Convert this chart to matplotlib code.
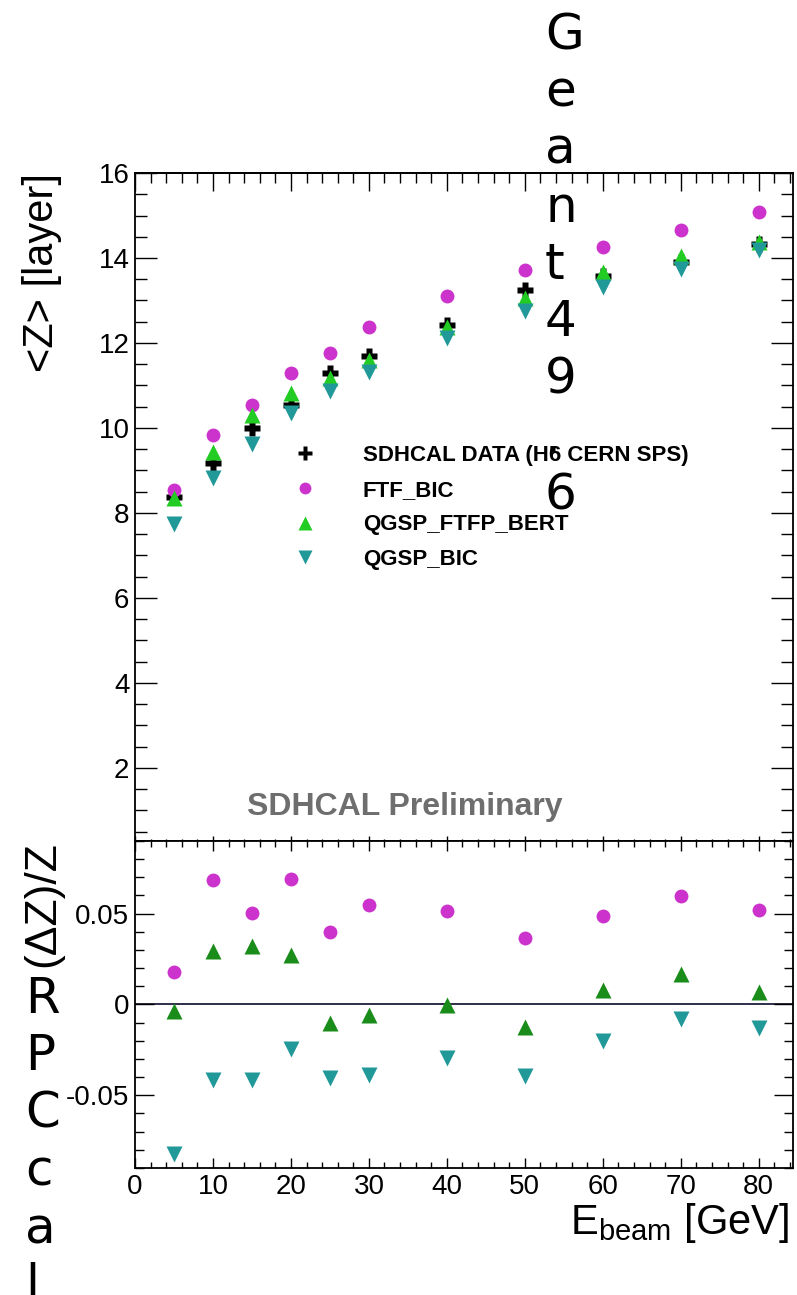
import matplotlib
matplotlib.use("Agg")
import matplotlib.pyplot as plt
from matplotlib.ticker import MultipleLocator, FixedLocator, FuncFormatter, NullFormatter

# beam energies (GeV)
energy = [5, 10, 15, 20, 25, 30, 40, 50, 60, 70, 80]

# mean shower position <Z> in layers
z_data = [8.38, 9.18, 10.00, 10.54, 11.29, 11.69, 12.42, 13.25, 13.58, 13.90, 14.33]
z_ftf_bic = [8.54, 9.84, 10.54, 11.29, 11.76, 12.38, 13.10, 13.72, 14.26, 14.66, 15.08]
z_qgsp_ftfp_bert = [8.36, 9.44, 10.31, 10.82, 11.18, 11.60, 12.38, 13.06, 13.67, 14.05, 14.38]
z_qgsp_bic = [7.74, 8.82, 9.62, 10.35, 10.87, 11.32, 12.12, 12.75, 13.32, 13.74, 14.19]

# relative difference (MC - data)/data
dz_ftf_bic = [0.0176, 0.0687, 0.0505, 0.0692, 0.0401, 0.0550, 0.0516, 0.0368, 0.0489, 0.0599, 0.0522]
dz_qgsp_ftfp_bert = [-0.0038, 0.0297, 0.0320, 0.0270, -0.0104, -0.0060, -0.0005, -0.0126, 0.0077, 0.0165, 0.0066]
dz_qgsp_bic = [-0.0824, -0.0418, -0.0418, -0.0247, -0.0407, -0.0390, -0.0297, -0.0396, -0.0203, -0.0082, -0.0132]

labels = ["SDHCAL DATA (H6 CERN SPS)", "FTF_BIC", "QGSP_FTFP_BERT", "QGSP_BIC"]
ztick_vals = [2, 4, 6, 8, 10, 12, 14, 16]
rtick_vals = [-0.05, 0, 0.05]

magenta = "#cc33cc"
green = "#22cc22"
dkgreen = "#1a8c1a"
teal = "#229999"

plt.rcParams['font.family'] = ['Liberation Sans', 'DejaVu Sans']
plt.rcParams['axes.unicode_minus'] = False
plt.rcParams['axes.linewidth'] = 1.3

fig = plt.figure(figsize=(7.97, 12.95), dpi=100)
ax = fig.add_axes([0.1694, 0.3506, 0.8256, 0.5158])
axr = fig.add_axes([0.1694, 0.0981, 0.8256, 0.2525])

# ---- upper panel
ax.plot(energy, z_data, ls='none', marker='P', ms=11.5, color='black', mec='none', label=labels[0])
ax.plot(energy, z_ftf_bic, ls='none', marker='o', ms=10, color=magenta, mec='none', label=labels[1])
ax.plot(energy, z_qgsp_ftfp_bert, ls='none', marker='^', ms=11.5, color=green, mec='none', label=labels[2])
ax.plot(energy, z_qgsp_bic, ls='none', marker='v', ms=11.5, color=teal, mec='none', label=labels[3])

ax.set_xlim(0, 84.4)
ax.set_ylim(0.28, 16)
ax.xaxis.set_major_locator(MultipleLocator(10))
ax.xaxis.set_minor_locator(MultipleLocator(2))
ax.xaxis.set_major_formatter(NullFormatter())
ax.yaxis.set_major_locator(FixedLocator(ztick_vals))
ax.yaxis.set_minor_locator(MultipleLocator(0.5))
ax.tick_params(axis='y', which='major', direction='in', length=15.5, width=1, left=True, right=True, labelsize=20, pad=4)
ax.tick_params(axis='y', which='minor', direction='in', length=8.5, width=1, left=True, right=True)
ax.tick_params(axis='x', which='major', direction='in', length=3.6, width=1, top=False)
ax.tick_params(axis='x', which='minor', direction='in', length=1.5, width=1, top=False)

sec = ax.secondary_xaxis('top')
sec.xaxis.set_major_locator(MultipleLocator(10))
sec.xaxis.set_minor_locator(MultipleLocator(2))
sec.xaxis.set_major_formatter(NullFormatter())
sec.tick_params(which='major', direction='in', length=13, width=1)
sec.tick_params(which='minor', direction='in', length=7, width=1)
sec.spines['top'].set_linewidth(1.3)

ax.set_ylabel("<Z> [layer]", fontsize=30, loc='top')
ax.yaxis.set_label_coords(-0.111, 1.0)

ax.text(0.170, 0.051, "SDHCAL Preliminary", transform=ax.transAxes, fontsize=23,
        fontweight='bold', color='#6e6e6e', va='center', ha='left')

leg = ax.legend(loc='upper left', bbox_to_anchor=(0.194, 0.623), frameon=False,
                prop={'family': 'Liberation Sans', 'weight': 'bold', 'size': 16},
                markerscale=0.85, labelspacing=0.62, handlelength=2.0,
                handletextpad=1.6, borderpad=0.4)

# ---- lower panel (ratio)
axr.axhline(0, color='#1e1e3c', lw=1.3, zorder=1)
axr.plot(energy, dz_ftf_bic, ls='none', marker='o', ms=10, color=magenta, mec='none')
axr.plot(energy, dz_qgsp_ftfp_bert, ls='none', marker='^', ms=11.5, color=dkgreen, mec='none')
axr.plot(energy, dz_qgsp_bic, ls='none', marker='v', ms=11.5, color=teal, mec='none')

axr.set_xlim(0, 84.4)
axr.set_ylim(-0.09, 0.09)
axr.xaxis.set_major_locator(MultipleLocator(10))
axr.xaxis.set_minor_locator(MultipleLocator(2))
axr.yaxis.set_major_locator(FixedLocator(rtick_vals))
axr.yaxis.set_minor_locator(MultipleLocator(0.01))
axr.yaxis.set_major_formatter(FuncFormatter(lambda v, p: "%g" % round(v, 3)))
axr.tick_params(axis='x', which='major', direction='in', length=7.5, width=1, top=True, bottom=True, labelsize=20, pad=4)
axr.tick_params(axis='x', which='minor', direction='in', length=4, width=1, top=True, bottom=True)
axr.tick_params(axis='y', which='major', direction='in', length=13.5, width=1, left=True, right=True, labelsize=20, pad=4)
axr.tick_params(axis='y', which='minor', direction='in', length=6.5, width=1, left=True, right=True)

axr.set_ylabel("(\u0394Z)/Z", fontsize=32, loc='top')
axr.yaxis.set_label_coords(-0.109, 1.0)
axr.set_xlabel(r"$\mathregular{E_{beam}}$ [GeV]", fontsize=30, loc='right')
axr.xaxis.set_label_coords(0.995, -0.10)

# stray vertical labels
fig.text(545 / 797, 1 - 11 / 1295, "\n".join("Geant49.6"), fontsize=36, linespacing=1.25,
         family='DejaVu Sans', ha='left', va='top')
fig.text(25 / 797, 1 - 975 / 1295, "\n".join("RPCcal"), fontsize=36, linespacing=1.25,
         family='DejaVu Sans', ha='left', va='top')

fig.savefig("out.png", dpi=100)
